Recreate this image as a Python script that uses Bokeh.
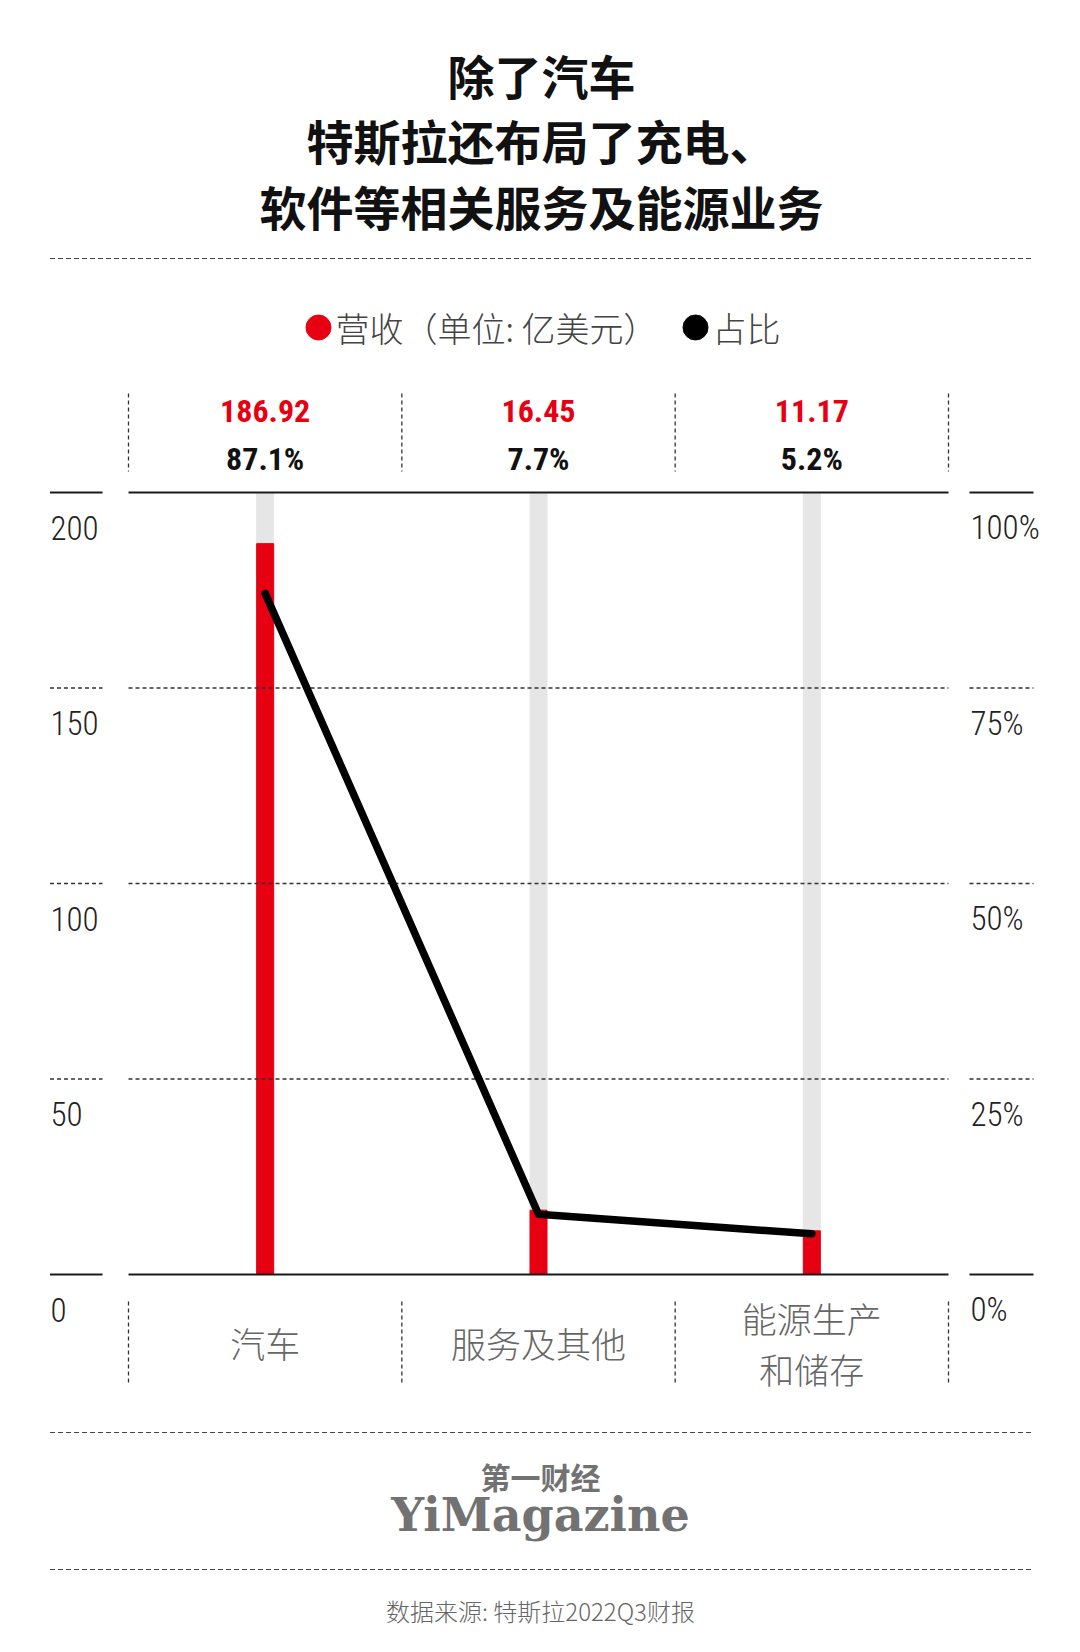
from bokeh.plotting import figure
from bokeh.models import Range1d
from bokeh.core.properties import value
from bokeh.embed import file_html
from bokeh.resources import INLINE

# ---------------- data ----------------
categories = ["汽车", "服务及其他", "能源生产和储存"]
category_labels = ["汽车", "服务及其他", "能源生产\n和储存"]
revenue = [186.92, 16.45, 11.17]      # 营收, 亿美元
share = [87.1, 7.7, 5.2]              # 占比, %
y_ticks = [0, 50, 100, 150, 200]
y_tick_labels = ["0", "50", "100", "150", "200"]
pct_ticks = [0, 25, 50, 75, 100]
pct_tick_labels = ["0%", "25%", "50%", "75%", "100%"]
title_lines = ["除了汽车", "特斯拉还布局了充电、", "软件等相关服务及能源业务"]
legend_labels = ["营收（单位: 亿美元）", "占比"]
logo_cn = "第一财经"
logo_en = "YiMagazine"
source_note = "数据来源: 特斯拉2022Q3财报"

# ---------------- layout (page pixels) ----------------
MARGIN = 0
W, H = 1080, 1652
CHART_L, CHART_R = 128, 948
CHART_T, CHART_B = 492, 1274
Y_MAX = 200
PCT_MAX = 100
RED = "#e60012"
TRACK = "#e6e6e6"
INK = "#1a1a1a"
COND = value("Roboto Condensed, Liberation Sans Narrow, DejaVu Sans Condensed, Roboto")
COND_LIGHT = value("Roboto Condensed Light, Roboto Condensed, Liberation Sans Narrow, Roboto")
CJK = value("Noto Sans CJK SC")
CJK_LIGHT = value("Noto Sans CJK SC Light, Noto Sans CJK SC")

n = len(categories)
xpos = [i + 0.5 for i in range(n)]          # category slots on a linear band scale
px_per_unit = (CHART_B - CHART_T) / Y_MAX
y_start = -(MARGIN + H - CHART_B) / px_per_unit
y_end = Y_MAX + (CHART_T - MARGIN) / px_per_unit
px_per_cat = (CHART_R - CHART_L) / n
x_start = -(CHART_L - MARGIN) / px_per_cat
x_end = n + (MARGIN + W - CHART_R) / px_per_cat
bar_w = 17 / px_per_cat

p = figure(width=W, height=H,
           x_range=Range1d(x_start, x_end), y_range=Range1d(y_start, y_end),
           x_axis_location=None, y_axis_location=None,
           output_backend="svg", toolbar_location=None, title=None, min_border=0)
p.outline_line_color = None
p.background_fill_color = "white"
p.border_fill_color = "white"
p.xgrid.visible = False
p.ygrid.visible = False
p.extra_x_ranges = {"pagex": Range1d(MARGIN, MARGIN + W)}
p.extra_y_ranges = {"pagey": Range1d(MARGIN + H, MARGIN),
                    "pct": Range1d(y_start * PCT_MAX / Y_MAX, y_end * PCT_MAX / Y_MAX)}

# ---------------- bars ----------------
p.vbar(x=xpos, top=[Y_MAX] * n, bottom=0, width=bar_w, color=TRACK)
p.vbar(x=xpos, top=revenue, bottom=0, width=bar_w, color=RED)

# ---------------- grid lines + side tick segments ----------------
inner = y_ticks[1:-1]
outer = [y_ticks[0], y_ticks[-1]]
for ticks, dash, lw, col in [(inner, "4 3", 1.3, "#333333"), (outer, "solid", 2.2, INK)]:
    k = len(ticks)
    p.segment(x0=[0] * k, x1=[n] * k, y0=ticks, y1=ticks, line_color=col, line_width=lw, line_dash=dash)
    p.segment(x0=[49.5] * k, x1=[102] * k, y0=ticks, y1=ticks, x_range_name="pagex",
              line_color=col, line_width=lw, line_dash=dash)
    p.segment(x0=[969] * k, x1=[1033] * k, y0=ticks, y1=ticks, x_range_name="pagex",
              line_color=col, line_width=lw, line_dash=dash)

# ---------------- share line ----------------
p.line(x=xpos, y=share, y_range_name="pct", line_color="black", line_width=7.5,
       line_join="round", line_cap="round")

# ---------------- category separators (dashed vertical) ----------------
bounds = list(range(n + 1))
for y0, y1 in [(393, 471), (1301, 1382)]:
    p.segment(x0=bounds, x1=bounds, y0=[y0] * len(bounds), y1=[y1] * len(bounds),
              y_range_name="pagey", line_color="#333333", line_width=1.3, line_dash="4 3")

# ---------------- value labels ----------------
p.text(x=xpos, y=410, text=[f"{v:.2f}" for v in revenue], y_range_name="pagey",
       text_font=COND, text_font_size="32px", text_font_style="bold", text_color=RED,
       text_align="center", text_baseline="middle")
p.text(x=xpos, y=458, text=[f"{s}%" for s in share], y_range_name="pagey",
       text_font=COND, text_font_size="32px", text_font_style="bold", text_color="#111111",
       text_align="center", text_baseline="middle")

# ---------------- category labels ----------------
p.text(x=xpos, y=1342, text=category_labels, y_range_name="pagey",
       text_font=CJK_LIGHT, text_font_size="35px", text_color="#666666", text_line_height=1.0,
       text_align="center", text_baseline="middle")

# ---------------- axis tick labels ----------------
p.text(x=50, y=y_ticks, text=y_tick_labels, x_range_name="pagex", y_offset=35,
       text_font=COND_LIGHT, text_font_size="33px", text_color="#222222",
       text_align="left", text_baseline="middle")
p.text(x=970, y=pct_ticks, text=pct_tick_labels, x_range_name="pagex", y_range_name="pct",
       y_offset=35, text_font=COND_LIGHT, text_font_size="33px", text_color="#222222",
       text_align="left", text_baseline="middle")

# ---------------- title ----------------
p.text(x=541, y=[74, 139, 205], text=title_lines, x_range_name="pagex", y_range_name="pagey",
       text_font=CJK, text_font_size="47px", text_font_style="bold", text_color="#111111",
       text_align="center", text_baseline="middle")

# ---------------- separators ----------------
seps = [258, 1432, 1569]
p.segment(x0=[49.5] * 3, x1=[1033] * 3, y0=seps, y1=seps, x_range_name="pagex", y_range_name="pagey",
          line_color="#444444", line_width=1.2, line_dash="5 3")

# ---------------- legend ----------------
p.scatter(x=[318, 695], y=[327, 327], size=25, color=[RED, "black"], marker="circle",
          x_range_name="pagex", y_range_name="pagey")
p.text(x=[335, 712], y=327, text=legend_labels, x_range_name="pagex", y_range_name="pagey",
       text_font=CJK_LIGHT, text_font_size="34px", text_color="#444444",
       text_align="left", text_baseline="middle")

# ---------------- logo + source ----------------
p.text(x=540, y=1475, text=[logo_cn], x_range_name="pagex", y_range_name="pagey",
       text_font=CJK, text_font_size="30px", text_font_style="bold", text_color="#727272",
       text_align="center", text_baseline="middle")
p.text(x=540, y=1514, text=[logo_en], x_range_name="pagex", y_range_name="pagey",
       text_font=value("DejaVu Serif"), text_font_size="46px", text_font_style="bold",
       text_color="#727272", text_align="center", text_baseline="middle")
p.text(x=540, y=1610, text=[source_note], x_range_name="pagex", y_range_name="pagey",
       text_font=CJK_LIGHT, text_font_size="24px", text_color="#666666",
       text_align="center", text_baseline="middle")

open("out.html", "w").write(file_html(p, INLINE))
